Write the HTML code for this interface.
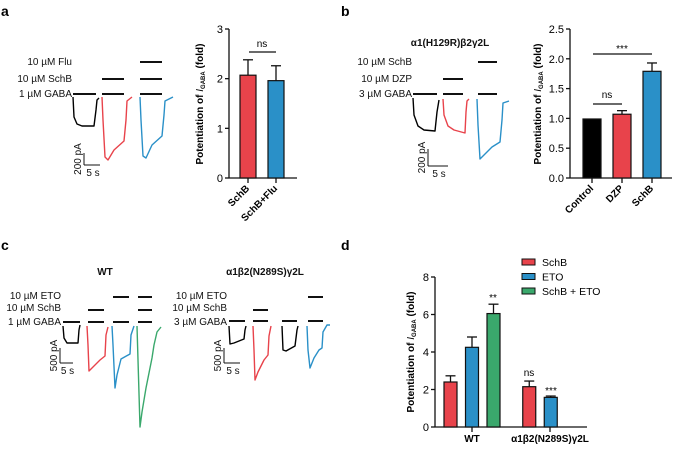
<!DOCTYPE html>
<html><head><meta charset="utf-8"><style>
body{margin:0;background:#fff}
svg{display:block;font-family:"Liberation Sans",Arial,sans-serif}
</style></head><body>
<svg id="fig" width="675" height="449" viewBox="0 0 675 449" xmlns="http://www.w3.org/2000/svg">
<g font-weight="bold" font-size="14">
<text x="1" y="16">a</text>
<text x="341" y="16">b</text>
<text x="1" y="250">c</text>
<text x="341" y="250">d</text>
</g>
<g id="traces" font-size="10" fill="#111"></g>
<g id="charts"></g>
</svg>
<script>
// ---- chart data ----
const aCats = ["SchB","SchB+Flu"];
const aVals = [2.07,1.96];
const aErr = [0.31,0.30];
const aTicks = [0,1,2,3];
const bCats = ["Control","DZP","SchB"];
const bVals = [0.99,1.07,1.79];
const bErr = [0,0.06,0.14];
const bTicks = ["0.0","0.5","1.0","1.5","2.0","2.5"];
const dGroups = ["WT","α1β2(N289S)γ2L"];
const dSchB = [2.4,2.15];
const dETO = [4.25,1.58];
const dBoth = [6.05];
const dSchBErr = [0.33,0.3];
const dETOErr = [0.55,0.07];
const dBothErr = [0.5];
const dTicks = [0,2,4,6,8];
const dSeries = ["SchB","ETO","SchB + ETO"];

const RED="#e8434b", BLUE="#2a90c8", GREEN="#3aa86c", BLK="#000";
const NS="http://www.w3.org/2000/svg";
const charts=document.getElementById('charts');
const tr=document.getElementById('traces');
function mk(tag,attrs,parent,text){const e=document.createElementNS(NS,tag);for(const k in attrs)e.setAttribute(k,attrs[k]);if(text!==undefined)e.textContent=text;(parent||charts).appendChild(e);return e;}
function line(x1,y1,x2,y2,p,w){return mk('line',{x1,y1,x2,y2,stroke:'#111','stroke-width':w||1.3},p);}

function ylabel(x,y,p){
  const t=mk('text',{x:0,y:0,transform:`translate(${x},${y}) rotate(-90)`,'text-anchor':'middle','font-size':10,'font-weight':'bold'},p);
  
  
  t.innerHTML='Potentiation of <tspan font-style="italic" font-weight="normal">I</tspan><tspan font-size="6" dy="2">GABA</tspan><tspan dy="-2"> (fold)</tspan>';
}

// ---- Panel a chart ----
(function(){
  const x0=229,y0=178,yTop=29,max=3;
  const ys=v=>y0-(v/max)*(y0-yTop);
  const xs=[248,276];
  const cols=[RED,BLUE];
  line(x0,yTop,x0,y0);line(x0,y0,297,y0);
  aTicks.forEach(t=>{line(x0-4,ys(t),x0,ys(t));const e=mk('text',{x:x0-6,y:ys(t)+4,'text-anchor':'end','font-size':11},undefined,t);
    });
  aCats.forEach((c,i)=>{
    line(xs[i],ys(aVals[i]),xs[i],ys(aVals[i]+aErr[i]));line(xs[i]-5,ys(aVals[i]+aErr[i]),xs[i]+5,ys(aVals[i]+aErr[i]));
    const r=mk('rect',{x:xs[i]-8,y:ys(aVals[i]),width:16,height:y0-ys(aVals[i]),fill:cols[i],stroke:'#111','stroke-width':1.2});
    
    line(xs[i],y0,xs[i],y0+5);
    const t=mk('text',{x:0,y:0,transform:`translate(${xs[i]+2},${y0+11}) rotate(-45)`,'text-anchor':'end','font-size':10,'font-weight':'bold'},undefined,c);
    
  });
  line(249,52,276,52,undefined,1.2);
  mk('text',{x:262,y:47,'text-anchor':'middle','font-size':10},undefined,'ns');
  ylabel(203,104);
})();

// ---- Panel b chart ----
(function(){
  const x0=570,y0=178,yTop=29,max=2.5;
  const ys=v=>y0-(v/max)*(y0-yTop);
  const xs=[592,622,652];
  const cols=[BLK,RED,BLUE];
  line(x0,yTop,x0,y0);line(x0,y0,672,y0);
  bTicks.forEach(t=>{const v=parseFloat(t);line(x0-4,ys(v),x0,ys(v));const e=mk('text',{x:x0-6,y:ys(v)+4,'text-anchor':'end','font-size':11},undefined,t);
    });
  bCats.forEach((c,i)=>{
    if(bErr[i]>0){line(xs[i],ys(bVals[i]),xs[i],ys(bVals[i]+bErr[i]));line(xs[i]-5,ys(bVals[i]+bErr[i]),xs[i]+5,ys(bVals[i]+bErr[i]));}
    const r=mk('rect',{x:xs[i]-9,y:ys(bVals[i]),width:18,height:y0-ys(bVals[i]),fill:cols[i],stroke:'#111','stroke-width':1.2});
    
    line(xs[i],y0,xs[i],y0+5);
    const t=mk('text',{x:0,y:0,transform:`translate(${xs[i]+2},${y0+11}) rotate(-45)`,'text-anchor':'end','font-size':10,'font-weight':'bold'},undefined,c);
    
  });
  line(593,54,652,54,undefined,1.2);
  mk('text',{x:622,y:52,'text-anchor':'middle','font-size':10},undefined,'***');
  line(593,104,622,104,undefined,1.2);
  mk('text',{x:607,y:98,'text-anchor':'middle','font-size':10},undefined,'ns');
  ylabel(541,104);
})();

// ---- Panel d chart ----
(function(){
  const x0=435,y0=427,yTop=277,max=8;
  const ys=v=>y0-(v/max)*(y0-yTop);
  line(x0,yTop,x0,y0);line(x0,y0,587,y0);
  dTicks.forEach(t=>{line(x0-4,ys(t),x0,ys(t));const e=mk('text',{x:x0-6,y:ys(t)+4,'text-anchor':'end','font-size':11},undefined,t);
    });
  const groupX=[472,540];
  const series=[[dSchB,dSchBErr,RED],[dETO,dETOErr,BLUE],[dBoth,dBothErr,GREEN]];
  dGroups.forEach((g,gi)=>{
    const n=gi===0?3:2;
    for(let s=0;s<n;s++){
      const x=groupX[gi]+(s-(n-1)/2)*21.5;
      const v=series[s][0][gi],e=series[s][1][gi];
      line(x,ys(v),x,ys(v+e));line(x-5,ys(v+e),x+5,ys(v+e));
      const r=mk('rect',{x:x-6.5,y:ys(v),width:13,height:y0-ys(v),fill:series[s][2],stroke:'#111','stroke-width':1.2});
      
      
    }
    const tx=gi===0?472:550;
    line(tx,y0,tx,y0+5);
    const t=mk('text',{x:tx,y:y0+15,'text-anchor':'middle','font-size':10,'font-weight':'bold'},undefined,g);
    
  });
  mk('text',{x:493,y:ys(6.55)-3,'text-anchor':'middle','font-size':10},undefined,'**');
  mk('text',{x:529,y:ys(2.45)-5,'text-anchor':'middle','font-size':10},undefined,'ns');
  mk('text',{x:551,y:ys(1.65)-2,'text-anchor':'middle','font-size':10},undefined,'***');
  ylabel(414,352);
  const lc=[RED,BLUE,GREEN];
  dSeries.forEach((s,i)=>{
    const y=262+i*14.5;
    const r=mk('rect',{x:522,y:y-3,width:13,height:6,fill:lc[i],stroke:'#111','stroke-width':1});
    
    const t=mk('text',{x:542,y:y+4,'font-size':10.5},undefined,s);
    
  });
})();

// ---- Traces (illustrative current recordings) ----
function pl(pts,col){return mk('polyline',{points:pts.map(p=>p.join(',')).join(' '),fill:'none',stroke:col,'stroke-width':1.4,'stroke-linejoin':'round'},tr);}
function lab(x,y,t){mk('text',{x,y,'text-anchor':'end','font-size':10},tr,t);}
function bar(x1,x2,y){line(x1,y,x2,y,tr,2);}
function scale(x,y1,y2,x2,ytxt,xtxt){line(x,y1,x,y2,tr,1);line(x,y2,x2,y2,tr,1);
  mk('text',{x:0,y:0,transform:`translate(${x-3},${(y1+y2)/2}) rotate(-90)`,'text-anchor':'middle','font-size':10},tr,ytxt);
  mk('text',{x:(x+x2)/2+1,y:y2+11,'text-anchor':'middle','font-size':10},tr,xtxt);}

// a
lab(72,65,'10 µM Flu');lab(72,82,'10 µM SchB');lab(72,97,'1 µM GABA');
bar(73,96,94);bar(102,124,94);bar(140,162,94);bar(102,124,79);bar(140,162,79);bar(140,162,62);
pl([[73,97],[74,117],[77,124],[82,126],[94,126],[96,110],[97,100],[99,98]],BLK);
pl([[102,97],[103,120],[105,157],[108,160],[114,150],[124,141],[126,120],[127,101],[132,97]],RED);
pl([[140,97],[141,120],[143,156],[146,158],[152,145],[162,136],[164,115],[165,101],[173,97]],BLUE);
scale(84,153,165,100,'200 pA','5 s');
// b
mk('text',{x:450,y:46,'text-anchor':'middle','font-size':10,'font-weight':'bold'},tr,'α1(H129R)β2γ2L');
lab(412,65,'10 µM SchB');lab(412,82,'10 µM DZP');lab(412,97,'3 µM GABA');
bar(413,437,94);bar(443,463,94);bar(478,497,94);bar(443,463,79);bar(478,497,62);
pl([[413,98],[414,115],[418,126],[424,130],[435,131],[437,112],[439,100]],BLK);
pl([[443,99],[444,115],[448,126],[454,130],[465,133],[466,112],[467,101],[469,99]],RED);
pl([[477,99],[478,125],[480,159],[484,155],[492,147],[500,142],[502,120],[503,103],[509,101]],BLUE);
scale(428,149,166,448,'200 pA','5 s');
// c WT
mk('text',{x:105,y:275,'text-anchor':'middle','font-size':10,'font-weight':'bold'},tr,'WT');
lab(61,299,'10 µM ETO');lab(61,311,'10 µM SchB');lab(61,325,'1 µM GABA');
bar(63,80,322);bar(88,104,322);bar(113,129,322);bar(138,152,322);
bar(88,104,310);bar(138,152,310);bar(113,129,297);bar(138,152,297);
pl([[63,326],[64,338],[67,343],[78,343],[79,330],[80,325]],BLK);
pl([[87,326],[88,345],[89,371],[93,367],[100,360],[105,356],[106,335],[108,327]],RED);
pl([[112,326],[113,345],[115,388],[117,375],[121,359],[130,354],[131,335],[134,326]],BLUE);
pl([[137,326],[138,360],[140,427],[142,412],[146,388],[152,358],[154,345],[157,332],[161,327]],GREEN);
scale(60,348,363,73,'500 pA','5 s');
// c mutant
mk('text',{x:265,y:275,'text-anchor':'middle','font-size':10,'font-weight':'bold'},tr,'α1β2(N289S)γ2L');
lab(227,299,'10 µM ETO');lab(227,311,'10 µM SchB');lab(227,325,'3 µM GABA');
bar(229,245,321);bar(253,268,321);bar(282,297,321);bar(308,323,321);bar(253,268,310);bar(308,323,297);
pl([[229,326],[230,344],[234,343],[244,339],[245,330],[246,326]],BLK);
pl([[253,326],[254,350],[255,380],[258,372],[264,360],[268,355],[269,336],[271,326]],RED);
pl([[282,326],[283,350],[286,351],[295,346],[297,330],[298,326]],BLK);
pl([[307,326],[308,350],[310,368],[314,358],[319,350],[322,348],[323,332],[327,325],[330,325]],BLUE);
scale(224,348,363,240,'500 pA','5 s');
</script>
</body></html>
